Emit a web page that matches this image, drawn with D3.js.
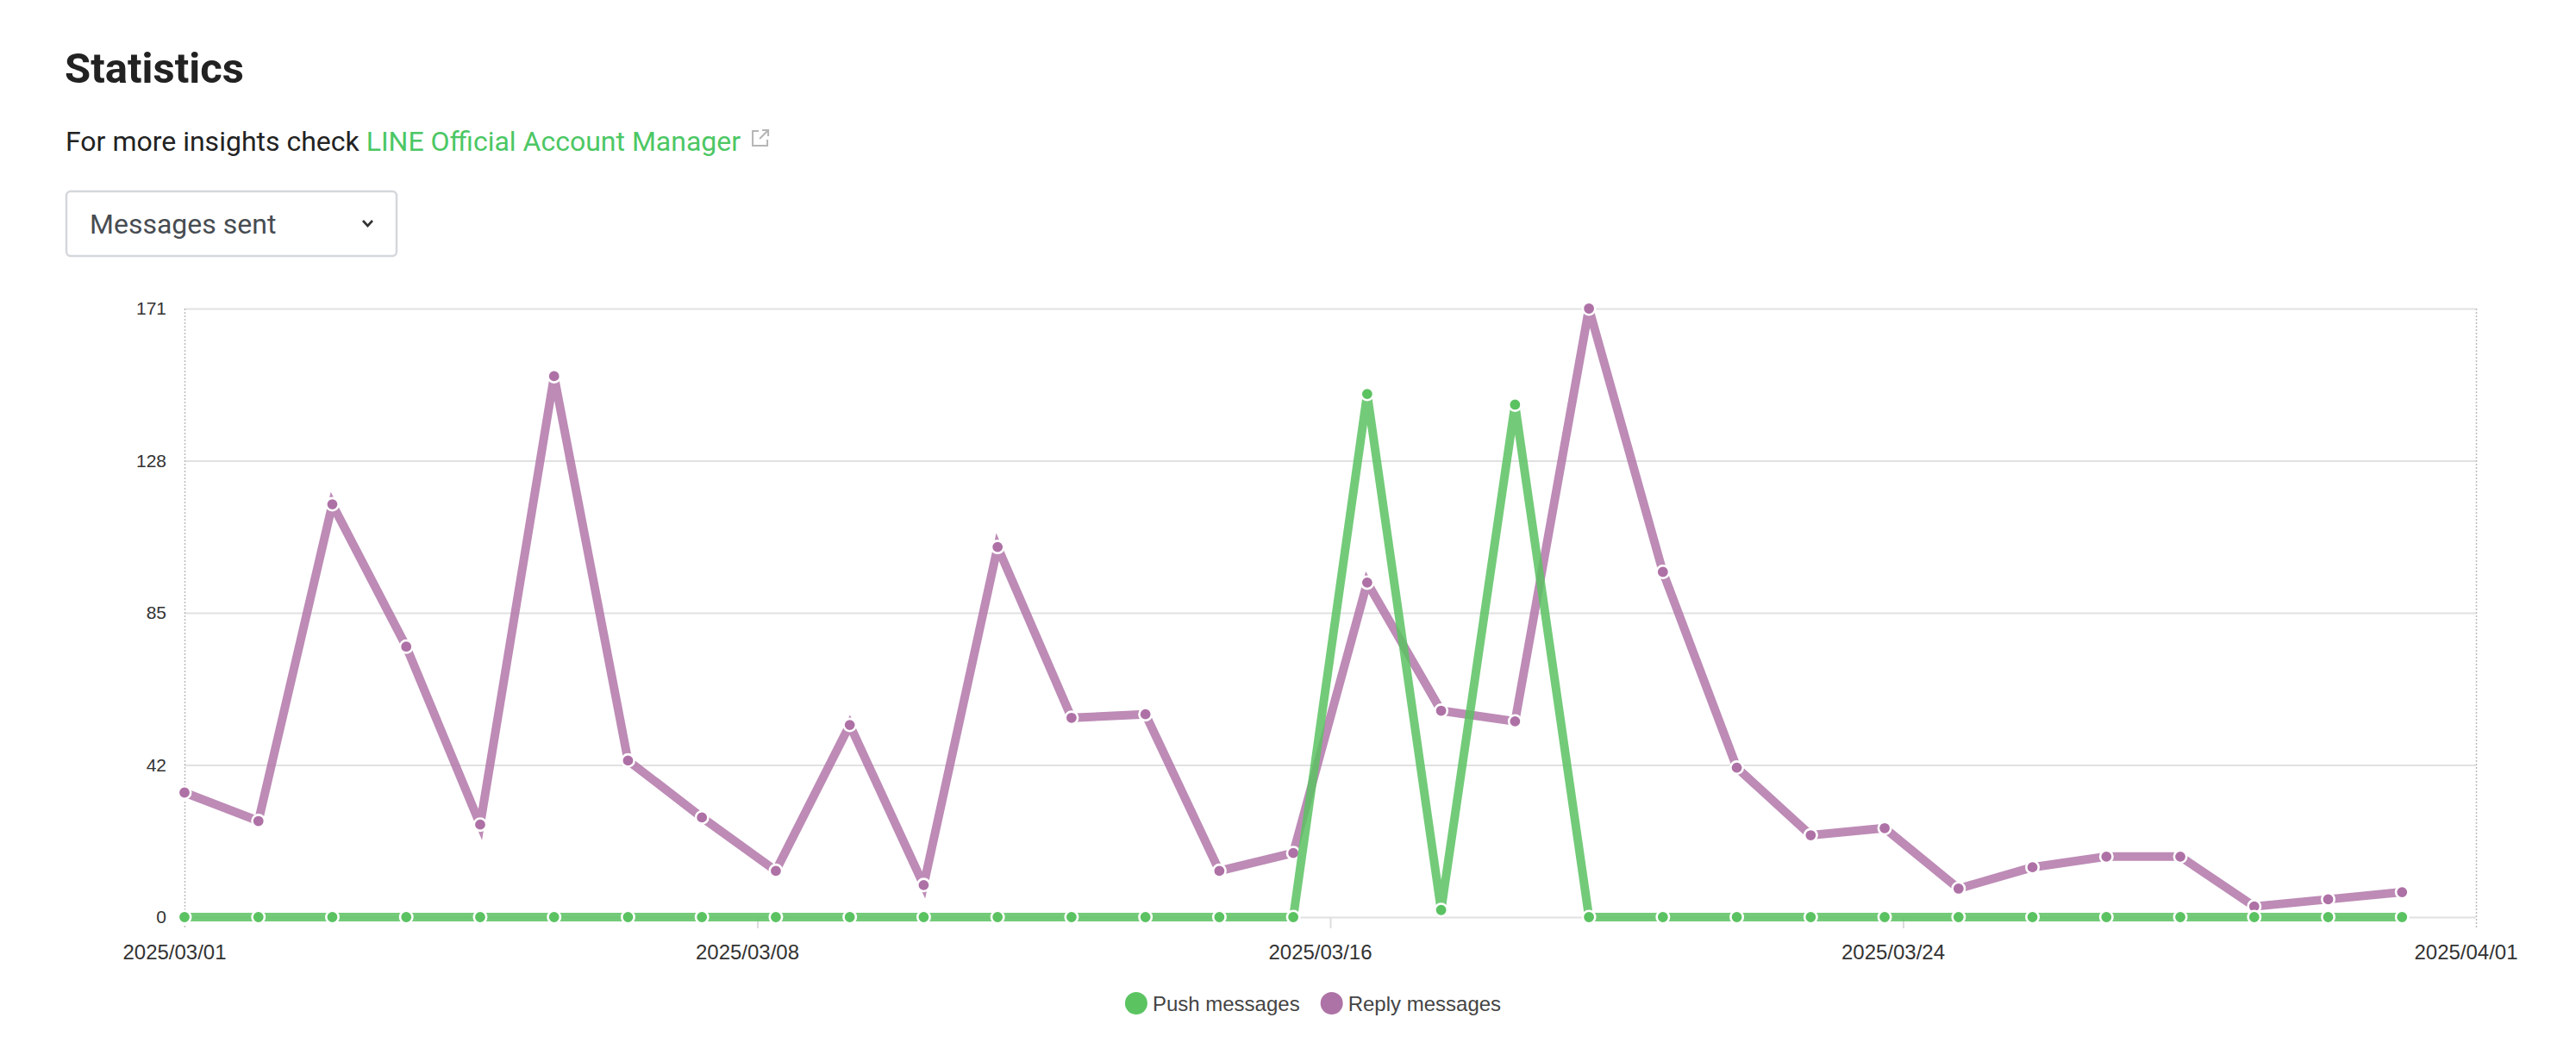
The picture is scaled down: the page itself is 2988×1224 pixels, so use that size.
<!DOCTYPE html>
<html>
<head>
<meta charset="utf-8">
<script src="https://cdn.jsdelivr.net/npm/d3@7"></script>
<style>
  body { margin: 0; background: #fff; }
  svg { display: block; }
</style>
</head>
<body>
<svg id="page"></svg>
<script>
// Data
const days = [
  "2025-03-01", "2025-03-02", "2025-03-03", "2025-03-04", "2025-03-05", "2025-03-06",
  "2025-03-07", "2025-03-08", "2025-03-09", "2025-03-10", "2025-03-11", "2025-03-12",
  "2025-03-13", "2025-03-14", "2025-03-15", "2025-03-16", "2025-03-17", "2025-03-18",
  "2025-03-19", "2025-03-20", "2025-03-21", "2025-03-22", "2025-03-23", "2025-03-24",
  "2025-03-25", "2025-03-26", "2025-03-27", "2025-03-28", "2025-03-29", "2025-03-30",
  "2025-03-31"
];
const pushMessages = [
  0, 0, 0, 0, 0, 0, 0, 0, 0, 0, 0, 0, 0, 0, 0, 0,
  147, 2, 144,
  0, 0, 0, 0, 0, 0, 0, 0, 0, 0, 0, 0
];
const replyMessages = [
  35, 27, 116, 76, 26, 152, 44, 28, 13, 54,
  9, 104, 56, 57, 13, 18, 94, 58, 55, 171,
  97, 42, 23, 25, 8, 14, 17, 17, 3, 5, 7
];
const seriesNames = ["Push messages", "Reply messages"];
const xTickLabels = ["2025/03/01", "2025/03/08", "2025/03/16", "2025/03/24", "2025/04/01"];
const yTickLabels = ["0", "42", "85", "128", "171"];

// Layout
const W = 2988, H = 1224;
const plot = { left: 214, right: 2872, top: 358, bottom: 1064 };
const colors = {
  push: "#5bc262", pushLine: "rgba(91,194,98,0.85)",
  reply: "#ae71a6", replyLine: "rgba(174,113,166,0.82)"
};

const svg = d3.select("#page").attr("width", W).attr("height", H);

// Header
svg.append("text")
  .attr("x", 75).attr("y", 96)
  .attr("font-family", "Roboto").attr("font-weight", 700).attr("font-size", 49)
  .attr("fill", "#222")
  .text("Statistics");

const sub = svg.append("text")
  .attr("x", 76).attr("y", 175)
  .attr("font-family", "Roboto").attr("font-size", 32)
  .attr("fill", "#222");
sub.append("tspan").text("For more insights check ");
sub.append("tspan").attr("fill", "#4cc764").text("LINE Official Account Manager");

// external link icon after the link text
const subEnd = 76 + sub.node().getComputedTextLength();
const icon = svg.append("g")
  .attr("transform", `translate(${subEnd + 13},150)`)
  .attr("fill", "none").attr("stroke", "#b5b5b5").attr("stroke-width", 2);
icon.append("path").attr("d", "M8,2 H1 V19 H18 V12");
icon.append("path").attr("d", "M12,1 H19 V8 M19,1 L9,11");

// Dropdown
svg.append("rect")
  .attr("x", 77).attr("y", 222).attr("width", 383).attr("height", 75)
  .attr("rx", 5).attr("fill", "#fff")
  .attr("stroke", "#d4d7db").attr("stroke-width", 2.5);
svg.append("text")
  .attr("x", 104).attr("y", 271)
  .attr("font-family", "Roboto").attr("font-size", 32)
  .attr("fill", "#474c52")
  .text("Messages sent");
svg.append("path")
  .attr("d", "M421,256 L426.5,262 L432,256")
  .attr("fill", "none").attr("stroke", "#333").attr("stroke-width", 2.6);

// Scales
const parse = d3.utcParse("%Y-%m-%d");
const dates = days.map(parse);
const start = dates[0];
const end = d3.utcDay.offset(dates[dates.length - 1], 1);
const x = d3.scaleUtc().domain([start, end]).range([plot.left, plot.right]);
const yMax = d3.max([...pushMessages, ...replyMessages]);
const y = d3.scaleLinear().domain([0, yMax]).range([plot.bottom, plot.top]);

const xTickValues = xTickLabels.map((d, i) => d3.interpolateDate(start, end)(i / (xTickLabels.length - 1)));
const yTickValues = yTickLabels.map((d, i) => yMax * i / (yTickLabels.length - 1));

// Y axis with gridlines
const yAxis = svg.append("g")
  .attr("transform", `translate(${plot.left},0)`)
  .call(d3.axisLeft(y)
    .tickValues(yTickValues)
    .tickFormat((d, i) => yTickLabels[i])
    .tickSize(-(plot.right - plot.left))
    .tickPadding(21));
yAxis.select(".domain").remove();
yAxis.selectAll(".tick line").attr("stroke", "#e1e1e1").attr("stroke-width", 2);
yAxis.selectAll(".tick text")
  .attr("font-family", "Liberation Sans, Arial, sans-serif")
  .attr("font-size", 21).attr("fill", "#333");

// X axis
const xAxis = svg.append("g")
  .attr("transform", `translate(0,${plot.bottom})`)
  .call(d3.axisBottom(x)
    .tickValues(xTickValues)
    .tickFormat((d, i) => xTickLabels[i])
    .tickSize(13)
    .tickPadding(19));
xAxis.select(".domain").remove();
xAxis.selectAll(".tick line")
  .attr("stroke", "#dcdcdc").attr("stroke-width", 2)
  .filter((d, i) => i === 0 || i === xTickValues.length - 1)
  .attr("y1", -(plot.bottom - plot.top))
  .attr("stroke", "#bcbcbc").attr("stroke-width", 1.5)
  .attr("stroke-dasharray", "2,2");
xAxis.selectAll(".tick text")
  .attr("font-family", "Liberation Sans, Arial, sans-serif")
  .attr("font-size", 24).attr("fill", "#333")
  .attr("dx", -12);

// Series (reply drawn first so push sits on top)
const series = [
  { name: seriesNames[1], values: replyMessages, fill: colors.reply, line: colors.replyLine },
  { name: seriesNames[0], values: pushMessages, fill: colors.push, line: colors.pushLine }
];

const line = d3.line()
  .x((d, i) => x(dates[i]))
  .y(d => y(d));

series.forEach(s => {
  const g = svg.append("g").attr("class", "series");
  g.append("path")
    .datum(s.values)
    .attr("d", line)
    .attr("fill", "none")
    .attr("stroke", s.line)
    .attr("stroke-width", 10)
    .attr("stroke-linejoin", "miter");
  g.selectAll("circle")
    .data(s.values)
    .join("circle")
    .attr("cx", (d, i) => x(dates[i]))
    .attr("cy", d => y(d))
    .attr("r", 7.2)
    .attr("fill", s.fill)
    .attr("stroke", "#fff")
    .attr("stroke-width", 2.6);
});

// Legend
const legendCenter = 1523;
const legend = svg.append("g");
const legendItems = [
  { name: seriesNames[0], fill: "#5bc461" },
  { name: seriesNames[1], fill: "#ae73a6" }
];
let lx = 0;
legendItems.forEach(item => {
  const g = legend.append("g").attr("transform", `translate(${lx},0)`);
  g.append("circle").attr("cx", 13).attr("cy", 0).attr("r", 13).attr("fill", item.fill);
  const t = g.append("text")
    .attr("x", 32).attr("y", 9)
    .attr("font-family", "Liberation Sans, Arial, sans-serif")
    .attr("font-size", 24).attr("fill", "#444")
    .text(item.name);
  lx += 32 + t.node().getComputedTextLength() + 24;
});
const legendWidth = lx - 24;
legend.attr("transform", `translate(${legendCenter - legendWidth / 2},1164)`);
</script>
</body>
</html>
